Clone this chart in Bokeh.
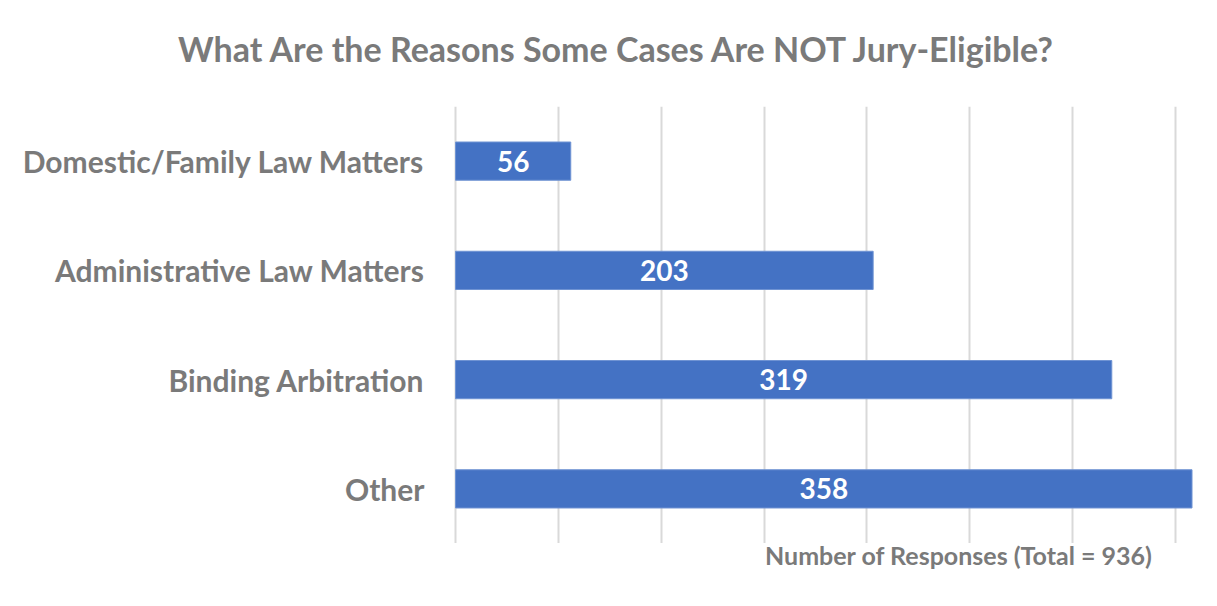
from bokeh.plotting import figure
from bokeh.models import ColumnDataSource, FactorRange, FixedTicker, Div
from bokeh.layouts import column
from bokeh.core.properties import value
from bokeh.embed import file_html
from bokeh.resources import INLINE

categories = ["Domestic/Family Law Matters", "Administrative Law Matters", "Binding Arbitration", "Other"]
responses = [56, 203, 319, 358]
grid_ticks = [0, 50, 100, 150, 200, 250, 300, 350]
title_text = "What Are the Reasons Some Cases Are NOT Jury-Eligible?"
axis_title = "Number of Responses (Total = 936)"

FONT = "Lato"
GRAY = "#7a7a7a"
BLUE = "#4472C4"

src = ColumnDataSource(dict(
    cat=categories,
    val=responses,
    mid=[v / 2 for v in responses],
    lbl=[str(v) for v in responses],
))

p = figure(
    width=1209, height=437,
    y_range=FactorRange(factors=list(reversed(categories)), range_padding=0),
    x_range=(-1, 366.5),
    output_backend="svg", toolbar_location=None,
    min_border_left=453, min_border_right=0, min_border_top=0, min_border_bottom=0,
)
p.outline_line_color = None
p.background_fill_color = "white"
p.border_fill_color = "white"

p.hbar(y="cat", right="val", left=0, height=0.35, source=src,
       fill_color=BLUE, line_color="#6f93d3", line_width=1)
p.text(x="mid", y="cat", text="lbl", source=src, text_color="white",
       text_font=value(FONT), text_font_style="bold", text_font_size="28px",
       text_align="center", text_baseline="middle")

p.xaxis.ticker = FixedTicker(ticks=grid_ticks)
p.xaxis.visible = False
p.xgrid.ticker = FixedTicker(ticks=grid_ticks)
p.xgrid.grid_line_color = "#d9d9d9"
p.xgrid.grid_line_width = 2
p.ygrid.grid_line_color = None

p.yaxis.axis_line_color = None
p.yaxis.major_tick_line_color = None
p.yaxis.minor_tick_line_color = None
p.yaxis.major_label_standoff = 23
p.yaxis.major_label_text_font = FONT
p.yaxis.major_label_text_font_style = "bold"
p.yaxis.major_label_text_font_size = "30px"
p.yaxis.major_label_text_color = GRAY

title_div = Div(
    text=title_text, width=1183, height=34, margin=(32, 0, 40, 24),
    styles={"font-family": FONT, "font-weight": "bold", "font-size": "34px",
            "line-height": "34px", "color": GRAY, "text-align": "center",
            "white-space": "nowrap"},
)
xlabel_div = Div(
    text=axis_title, width=444, height=30, margin=(0, 0, 0, 765),
    styles={"font-family": FONT, "font-weight": "bold", "font-size": "25px",
            "line-height": "25px", "color": GRAY, "text-align": "left",
            "white-space": "nowrap"},
)

layout = column(title_div, p, xlabel_div, spacing=0)
open("out.html", "w").write(file_html(layout, INLINE))
